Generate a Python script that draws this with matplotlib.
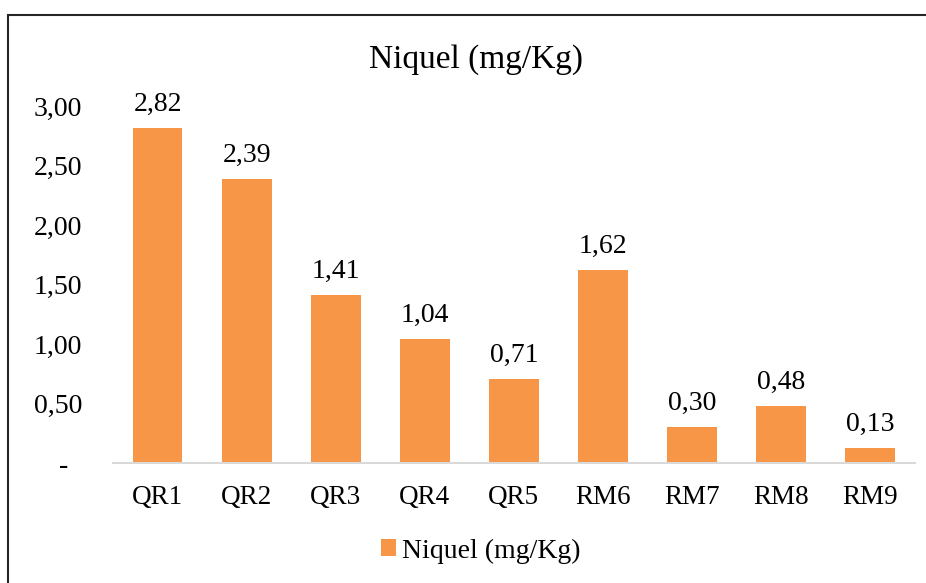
import matplotlib.pyplot as plt
from matplotlib.patches import Rectangle

plt.rcParams['font.family'] = ['Liberation Serif', 'DejaVu Serif']

categories = ["QR1", "QR2", "QR3", "QR4", "QR5", "RM6", "RM7", "RM8", "RM9"]
niquel = [2.82, 2.39, 1.41, 1.04, 0.71, 1.62, 0.30, 0.48, 0.13]
yticks = [0, 0.5, 1.0, 1.5, 2.0, 2.5, 3.0]
ytick_labels = ["-  ", "0,50", "1,00", "1,50", "2,00", "2,50", "3,00"]
series_name = "Niquel (mg/Kg)"
bar_color = "#F79646"

fig = plt.figure(figsize=(9.26, 5.83), dpi=100)
ax = fig.add_axes([0.122, 0.2058, 0.866, 0.612])

x = range(len(categories))
bars = ax.bar(x, niquel, width=0.56, color=bar_color, label=series_name)
for b, v in zip(bars, niquel):
    ax.annotate(f"{v:.2f}".replace(".", ","), (b.get_x() + b.get_width() / 2, v),
                xytext=(0, 8), textcoords="offset points",
                ha="center", va="bottom", fontsize=20)

ax.set_xlim(-0.5, len(categories) - 0.5)
ax.set_ylim(0, 3.0)
ax.set_yticks(yticks)
ax.set_yticklabels(ytick_labels)
ax.set_xticks(list(x))
ax.set_xticklabels(categories)
ax.tick_params(axis="y", length=0, pad=22, labelsize=20)
ax.tick_params(axis="x", length=0, pad=16, labelsize=19.5)
for s in ["top", "right", "left"]:
    ax.spines[s].set_visible(False)
ax.spines["bottom"].set_color("#D9D9D9")
ax.spines["bottom"].set_linewidth(1.5)

fig.text(0.514, 0.897, series_name, ha="center", va="center", fontsize=24)
fig.legend(loc="center", bbox_to_anchor=(0.519, 0.055), frameon=False,
           fontsize=20, handlelength=0.55, handleheight=0.55, handletextpad=0.2)

# outer chart border
fig.patches.append(Rectangle((8 / 926, -0.1), 1.2, (583 - 15) / 583 + 0.1,
                             transform=fig.transFigure, fill=False,
                             edgecolor="#262626", linewidth=1.5))

fig.savefig("out.png", dpi=100)
